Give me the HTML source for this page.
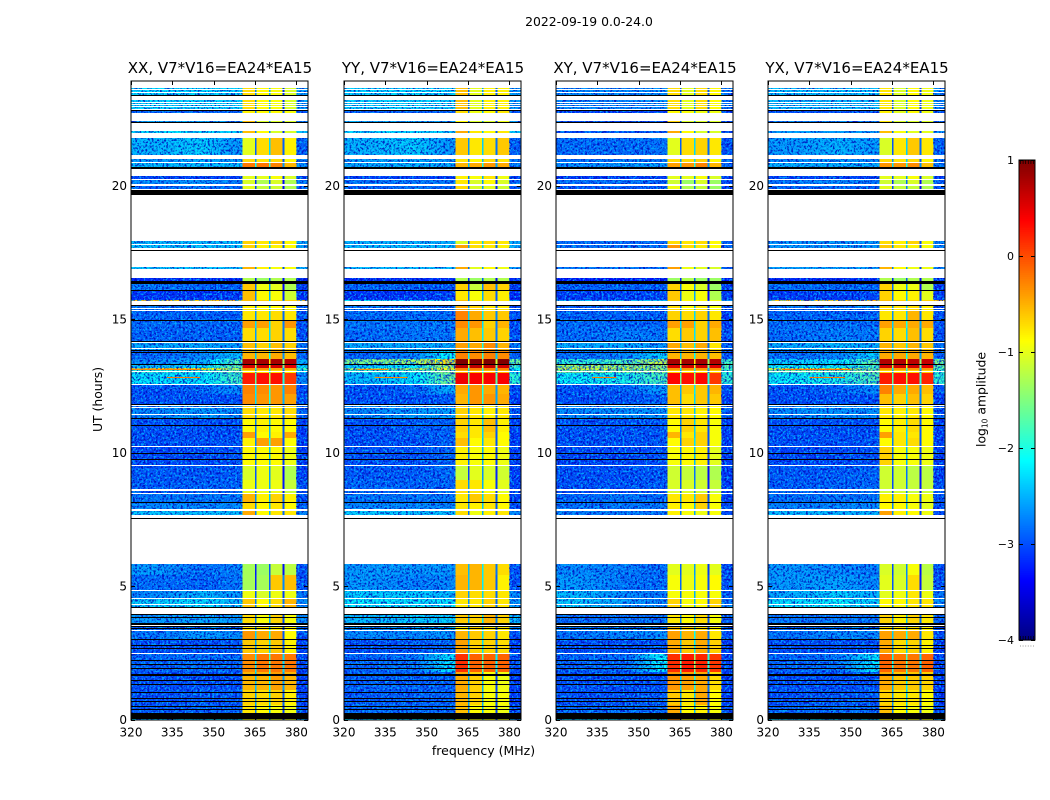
<!DOCTYPE html>
<html>
<head>
<meta charset="utf-8">
<title>2022-09-19 0.0-24.0</title>
<style>
html,body{margin:0;padding:0;background:#fff;}
svg{display:block;}
text{font-family:"DejaVu Sans","Liberation Sans",sans-serif;fill:#000;}
</style>
</head>
<body>
<svg id="chart" xmlns="http://www.w3.org/2000/svg" width="1050" height="800" viewBox="0 0 1050 800">
  <defs>
    <filter id="speckle-dark" x="0" y="0" width="1" height="1" color-interpolation-filters="sRGB">
      <feTurbulence type="fractalNoise" baseFrequency="0.48" numOctaves="2" seed="4"/>
      <feColorMatrix values="0 0 0 0 0  0 0 0 0 0.02  0 0 0 0 0.72  6 0 0 0 -2.85"/>
    </filter>
    <filter id="speckle-light" x="0" y="0" width="1" height="1" color-interpolation-filters="sRGB">
      <feTurbulence type="fractalNoise" baseFrequency="0.48" numOctaves="2" seed="11"/>
      <feColorMatrix values="0 0 0 0 0  0 0 0 0 0.72  0 0 0 0 1  0 6 0 0 -3.1"/>
    </filter>
  </defs>
  <rect x="0" y="0" width="1050" height="800" fill="#fff"/>
  <text x="589" y="26" font-size="12.4" text-anchor="middle">2022-09-19 0.0-24.0</text>
  <text x="220" y="73" font-size="15" text-anchor="middle">XX, V7*V16=EA24*EA15</text>
  <text x="433" y="73" font-size="15" text-anchor="middle">YY, V7*V16=EA24*EA15</text>
  <text x="645" y="73" font-size="15" text-anchor="middle">XY, V7*V16=EA24*EA15</text>
  <text x="857" y="73" font-size="15" text-anchor="middle">YX, V7*V16=EA24*EA15</text>
  <text x="483.5" y="755" font-size="12.5" text-anchor="middle">frequency (MHz)</text>
  <text transform="translate(102,399.5) rotate(-90)" font-size="12.4" text-anchor="middle">UT (hours)</text>
  <text transform="translate(985.5,399.5) rotate(-90)" font-size="12.4" text-anchor="middle">log<tspan font-size="7.5" dy="2">10</tspan><tspan dy="-2"> amplitude</tspan></text>
  <g id="panels"></g>
  <g id="colorbar"></g>
</svg>
<script>
// ---- data ----
const panelNames = ["xx", "yy", "xy", "yx"];
const xTickLabels = [320, 335, 350, 365, 380];
const yTickLabels = [0, 5, 10, 15, 20];
const colorbarTickLabels = [1, 0, -1, -2, -3, -4];
// frequency (MHz) where the three background readings of each row were taken
const backgroundFreqs = [329, 346, 357.2];
// frequency edges (MHz): background end, band/gap x4, upper background
const freqEdges = [320, 360.4, 365, 365.6, 370, 370.6, 375, 375.6, 380, 384.2];
// how far (decades) the three sub-band gaps sit below the neighbouring sub-bands
const gapDrops = [1.9, 1.6, 2.1];
// UT (hours) edges of the heatmap rows, top to bottom
const bandEdges = [23.66,22.80,22.45,22.20,21.78,21.15,20.87,20.63,20.24,20.04,17.92,17.77,16.95,16.52,16.31,16.06,15.72,15.52,15.30,14.92,14.66,14.14,13.85,13.50,13.31,13.15,13.10,12.99,12.55,12.19,11.80,11.31,10.77,10.54,10.26,9.53,8.97,8.50,8.11,7.87,5.82,5.41,4.85,4.55,3.95,3.60,3.30,2.98,2.46,1.78,1.10,.54,.24,0];
// flagged (blank) UT ranges
const whiteRanges = [[23.91,23.66],[23.60,23.58],[23.51,23.49],[23.35,23.20],[23.13,23.10],[23.04,23.01],[22.96,22.93],[22.88,22.84],[22.73,22.43],[22.34,22.04],[21.96,21.78],[21.15,21.00],[20.89,20.85],[20.63,20.35],[20.24,20.20],[20.04,19.98],[19.86,19.83],[19.64,17.92],[17.81,17.77],[17.67,17.59],[17.55,16.95],[16.86,16.52],[15.66,15.52],[15.41,15.37],[15.34,15.30],[14.14,14.10],[13.92,13.86],[13.04,13.01],[12.55,12.52],[11.80,11.75],[11.70,11.67],[11.45,11.42],[10.26,10.23],[9.55,9.51],[8.63,8.57],[8.50,8.46],[7.87,7.80],[7.66,7.56],[7.52,5.82],[4.85,4.81],[4.55,4.51],[4.33,4.30],[4.21,3.95],[3.60,3.57],[3.54,3.51],[3.35,3.30],[2.48,2.44]];
// zero-amplitude (black) UT ranges
const blackRanges = [[23.38,23.35],[22.84,22.80],[22.38,22.34],[20.69,20.63],[19.83,19.64],[17.59,17.55],[16.43,16.31],[16.08,16.04],[15.52,15.49],[14.95,14.92],[14.17,14.14],[13.85,13.80],[13.78,13.72],[13.31,13.28],[11.83,11.80],[11.30,11.25],[11.03,10.99],[10.00,9.97],[9.74,9.71],[8.15,8.11],[7.56,7.52],[4.23,4.21],[3.95,3.91],[3.85,3.82],[3.63,3.60],[3.57,3.54],[3.50,3.46],[3.42,3.39],[3.03,3.00],[2.80,2.76],[2.66,2.63],[2.22,2.18],[2.07,2.03],[1.93,1.90],[1.70,1.63],[1.48,1.45],[1.33,1.29],[1.02,.99],[.79,.76],[.69,.67],[.49,.46],[.39,.37],[.24,.02]];
// narrow interference: panel, UT hour, start MHz, end MHz, log10 amplitude
const rfiSegments = [[0,12.84,333,345,-.2],[1,12.84,331,343,-.3],[2,12.84,333,342,-.2],[3,12.84,335,348,-.2],[0,13.12,320,345,-.3],[3,13.12,325,350,-.2],[1,13.12,325,336,-.3]];
// log10 amplitude per row: [320-338, 338-354, 354-360, band1, band2, band3, band4, 380-384]
const valuesXX = [
[-2.25,-2.25,-2.3,-.55,-.7,-.75,-.9,-2.6],[-2.9,-2.9,-2.9,-.65,-.7,-.7,-.75,-3],[-2.5,-2.5,-2.6,-.4,-.9,-.9,-.9,-2.8],[-2.2,-2.2,-2.3,-.4,-.7,-.9,-.9,-2.4],
[-2.45,-2.3,-2.6,-.85,-.55,-.4,-.65,-2.9],[-2.6,-2.5,-2.6,-.55,-.6,-.55,-.7,-2.7],[-2.4,-2.4,-2.4,-.05,-.05,-.1,-.35,-2.7],[-3.1,-3.1,-3.1,-.85,-.85,-.75,-.9,-3.1],
[-2.7,-2.6,-2.8,-.9,-1.1,-.9,-1.1,-2.8],[-2.9,-2.8,-2.9,-.85,-1,-.95,-1.1,-2.9],[-2.4,-2.4,-2.4,-.5,-.6,-.5,-.7,-2.5],[-2.35,-2.35,-2.4,-.5,-.65,-.65,-.7,-2.5],
[-2.35,-2.35,-2.4,-.35,-.65,-.75,-.75,-2.5],[-3.2,-3.2,-3.2,-1.1,-1.2,-1.1,-1.1,-3.2],[-2.8,-2.9,-2.9,-.45,-.8,-.85,-1.1,-3.1],[-3.15,-3.15,-3.1,-.4,-.7,-.75,-.95,-3.15],
[-.6,-.6,-.5,-.4,-.5,-.5,-.5,-.5],[-2.8,-2.8,-2.8,-.65,-.7,-.7,-.7,-2.9],[-2.9,-2.9,-2.9,-.6,-.6,-.55,-.6,-3],[-2.85,-2.85,-2.9,-.25,-.25,-.5,-.2,-3],
[-2.9,-2.9,-2.9,-.55,-.55,-.5,-.55,-3],[-2.5,-2.5,-2.6,-.4,-.5,-.4,-.5,-2.8],[-2.9,-2.7,-2.4,-.35,-.35,-.3,-.4,-2.9],[-2.7,-2.5,-1.7,.8,.8,.8,.75,-2.5],
[-2.4,-2.2,-1.6,.55,.6,.6,.5,-2.2],[-.65,-.8,-1.3,-.2,-.2,-.3,-.3,-1.8],[-1.9,-1.9,-1.6,-.55,-.55,-.55,-.6,-2.2],[-2.2,-2.2,-1.8,.25,.3,.3,.1,-2.7],
[-3,-2.9,-2.7,-.1,-.15,-.2,-.1,-3],[-3,-3,-3,-.15,-.2,-.2,-.25,-3],[-2.7,-2.6,-2.7,-.55,-.6,-.6,-.55,-2.9],[-3,-3,-3,-.7,-.65,-.7,-.7,-3.1],
[-3,-3,-3,-.25,-.7,-.65,-.3,-3.1],[-3,-3,-3,-.65,-.25,-.25,-.7,-3.1],[-3.05,-3.05,-3,-.7,-.7,-.7,-.8,-3.1],[-2.95,-2.95,-2.95,-.9,-.8,-.85,-1.1,-3.1],
[-2.95,-2.9,-2.9,-.8,-.8,-.8,-1,-3],[-2.8,-2.8,-2.8,-.35,-.65,-.5,-.65,-3],[-2.7,-2.7,-2.7,-.55,-.7,-.6,-.7,-2.9],[-2.35,-2.4,-2.4,-.3,-.7,-.6,-.6,-2.7],
[-2.6,-2.85,-2.75,-1.15,-1.2,-1,-1.05,-3],[-2.85,-2.9,-2.8,-1.15,-1.15,-.45,-.4,-3],[-2.7,-2.4,-2.6,-.8,-.9,-.8,-.8,-2.8],[-2.3,-2.2,-2.4,-.45,-.7,-.55,-.35,-2.7],
[-2.6,-2.5,-2.6,-.55,-.75,-.5,-.75,-2.7],[-2.9,-2.8,-2.8,-.6,-.6,-.6,-.7,-2.9],[-2.8,-2.6,-2.7,-.2,-.3,-.3,-.7,-3],[-3,-3,-2.95,-.45,-.5,-.45,-.65,-3.1],
[-2.9,-2.85,-2.9,-.15,-.05,-.05,-.05,-3.05],[-3,-3,-3,-.35,-.35,-.25,-.35,-3.1],[-3,-2.95,-2.95,-.5,-.55,-.5,-.65,-3.05],[-2.95,-2.9,-2.9,-.6,-.7,-.75,-.8,-3],[-2.2,-2.2,-2.2,-.8,-.8,-.9,-.9,-2.4]
];
const valuesYY = [
[-2.3,-2.25,-2.3,-.4,-.85,-.65,-.65,-2.6],[-2.9,-2.9,-2.9,-.55,-.8,-.7,-.6,-3],[-2.5,-2.5,-2.6,-.7,-.9,-.9,-.8,-2.8],[-2.25,-2.25,-2.3,-.3,-.6,-.7,-.6,-2.3],
[-2.45,-2.3,-2.6,-.45,-.6,-.55,-.45,-2.9],[-2.55,-2.5,-2.6,-.6,-.7,-.55,-.6,-2.8],[-2.5,-2.45,-2.5,-.35,-.3,-.2,-.3,-2.8],[-3.1,-3.1,-3.1,-.65,-.75,-.6,-.8,-3.1],
[-2.8,-2.8,-2.8,-.6,-.9,-.7,-.9,-2.9],[-2.9,-2.8,-2.9,-.55,-.9,-.85,-.95,-3],[-2.45,-2.45,-2.5,-.9,-.6,-.55,-.6,-2.5],[-2.4,-2.4,-2.4,-.25,-.55,-.6,-.65,-2.5],
[-2.4,-2.4,-2.4,-.3,-.85,-.7,-.8,-2.6],[-3.2,-3.2,-3.2,-1.1,-1.2,-1.1,-1.1,-3.2],[-2.9,-2.9,-3,-.5,-1,-.4,-.5,-3.1],[-3.15,-3.15,-3.1,-.6,-.75,-.55,-.65,-3.2],
[-2.2,-2.2,-2.2,-.4,-.6,-.6,-.6,-2.6],[-2.8,-2.8,-2.8,-.3,-.5,-.6,-.6,-3],[-2.85,-2.85,-2.85,-.1,-.3,-.45,-.45,-3],[-2.8,-2.8,-2.8,-.15,-.2,-.5,-.35,-3],
[-2.85,-2.8,-2.8,-.3,-.4,-.45,-.5,-3],[-2.5,-2.5,-2.5,-.25,-.3,-.15,-.35,-2.8],[-2.9,-2.7,-2.1,-.1,-.15,-.1,-.15,-2.9],[-1.5,-1.3,-.7,1,1,1,1,-1.6],
[-2.3,-2.1,-1.2,.7,.7,.65,.6,-1.8],[-1.4,-1.3,-.9,-.1,-.1,-.1,-.1,-2.1],[-1.9,-1.9,-1.4,-.35,-.35,-.35,-.35,-2.2],[-2.4,-2.2,-1.55,.45,.4,.4,.4,-1.9],
[-3,-2.9,-2.5,-.3,-.2,-.3,-.35,-3],[-3,-3,-2.95,-.35,-.2,-.2,-.3,-3.1],[-2.7,-2.6,-2.6,-.5,-.6,-.65,-.6,-3],[-3,-2.95,-2.9,-.5,-.6,-.4,-.65,-3.1],
[-3,-2.95,-2.9,-.55,-.6,-.5,-.7,-3.1],[-3,-3,-2.9,-.4,-.7,-.6,-.7,-3.1],[-3,-3,-2.9,-.65,-.75,-.7,-.8,-3.1],[-2.95,-2.95,-2.85,-1,-.85,-.9,-.95,-3.1],
[-2.9,-2.9,-2.9,-.55,-.6,-.75,-.85,-3.1],[-2.8,-2.8,-2.8,-.6,-.45,-.55,-.7,-3.1],[-2.7,-2.7,-2.7,-.6,-.65,-.6,-.7,-3],[-2.3,-2.4,-2.4,-.55,-.8,-.65,-.6,-2.7],
[-2.6,-2.6,-2.6,-.4,-.35,-.45,-.55,-3],[-2.6,-2.75,-2.7,-.35,-.35,-.45,-.65,-3],[-2.3,-2.3,-2.4,-.5,-.55,-.55,-.6,-2.7],[-2.15,-2.2,-2.2,-.6,-.6,-.5,-.6,-2.6],
[-2.4,-2.3,-2.3,-.45,-.5,-.35,-.5,-2.4],[-2.7,-2.6,-2.5,-.6,-.5,-.6,-.6,-2.8],[-2.7,-2.7,-2.6,-.35,-.45,-.5,-.6,-3],[-3,-2.95,-2.9,-.25,-.5,-.5,-.55,-3.1],
[-2.9,-2.8,-2.2,.15,.05,.05,.05,-3],[-2.9,-2.9,-2.9,-.3,-.5,-.75,-.8,-3.1],[-2.95,-2.9,-2.9,-.35,-.5,-.75,-.75,-3.1],[-2.85,-2.85,-2.85,-.4,-.7,-.75,-.8,-3],[-2.2,-2.2,-2.2,-.7,-.8,-.8,-.8,-2.4]
];
const valuesXY = [
[-2.7,-2.7,-2.7,-.55,-.85,-.55,-.7,-2.8],[-3.1,-3.1,-3.1,-.7,-.75,-.8,-.8,-3.1],[-3,-3,-3,-.5,-.9,-.9,-.9,-3.1],[-3,-3,-2.9,-.3,-.7,-.9,-.9,-3],
[-2.85,-2.85,-2.8,-.85,-.55,-.5,-.6,-3],[-2.8,-2.75,-2.8,-.55,-.55,-.5,-.7,-2.9],[-2.7,-2.6,-2.6,-.25,-.2,-.1,-.35,-2.9],[-3.15,-3.1,-3.1,-.85,-.85,-.75,-.9,-3.1],
[-2.85,-2.85,-2.9,-.95,-1.2,-.9,-1.2,-3],[-3,-2.9,-3,-.8,-1.1,-1,-1.2,-3.1],[-2.85,-2.85,-2.85,-.55,-.6,-.55,-.7,-2.9],[-2.8,-2.8,-2.85,-.2,-.55,-.6,-.7,-2.9],
[-2.8,-2.8,-2.85,-.25,-.8,-.85,-.9,-2.9],[-3.3,-3.3,-3.3,-1.2,-1.1,-1.2,-1.2,-3.3],[-2.9,-2.9,-2.95,-.5,-.75,-.9,-1.2,-3.1],[-3.1,-3.1,-3.05,-.45,-.8,-.75,-1.1,-3.1],
[-2.4,-2.4,-2.4,-.5,-.7,-.7,-.8,-2.7],[-2.9,-2.9,-2.9,-.55,-.7,-.6,-.75,-3],[-2.9,-2.9,-2.9,-.5,-.55,-.5,-.6,-3.1],[-2.85,-2.9,-2.9,-.25,-.25,-.5,-.3,-3.1],
[-2.85,-2.75,-2.8,-.55,-.45,-.5,-.4,-3],[-2.5,-2.5,-2.6,-.3,-.4,-.3,-.6,-2.9],[-2.85,-2.7,-2.3,-.35,-.35,-.35,-.4,-3],[-1.9,-1.7,-1.1,.8,.8,.8,.75,-1.8],
[-1.3,-1.3,-1.3,.55,.6,.6,.55,-1.7],[-1.1,-1.1,-1.4,-.2,-.2,-.2,-.2,-1.8],[-1.5,-1.5,-1.4,-.5,-.5,-.5,-.5,-1.9],[-2.1,-2,-1.75,.35,.3,.35,.1,-1.9],
[-3,-2.9,-2.6,-.4,-.45,-.45,-.35,-3],[-3,-2.95,-2.9,-.4,-.55,-.45,-.45,-3.1],[-2.7,-2.65,-2.65,-.6,-.6,-.65,-.7,-2.9],[-3,-3,-2.95,-.7,-.5,-.6,-.75,-3.1],
[-3,-3,-2.95,-.35,-.6,-.5,-.75,-3.1],[-3,-3,-2.95,-.7,-.5,-.5,-.75,-3.1],[-3.05,-3.05,-3,-.75,-.7,-.65,-.85,-3.1],[-3,-3,-2.95,-.95,-1,-1.05,-1.1,-3.1],
[-3,-3,-2.95,-.9,-.9,-.95,-1,-3.1],[-2.9,-2.8,-2.85,-.6,-.6,-.45,-.75,-3.1],[-2.8,-2.8,-2.8,-.65,-.7,-.5,-.75,-3],[-2.75,-2.8,-2.8,-.65,-.75,-.8,-.75,-3],
[-2.7,-2.75,-2.85,-.85,-.85,-.8,-.85,-3],[-2.6,-2.8,-2.85,-.75,-.8,-.75,-.7,-3],[-2.4,-2.7,-2.75,-.75,-.75,-.75,-.75,-2.9],[-2.3,-2.6,-2.7,-.5,-.75,-.7,-.5,-2.8],
[-2.85,-2.85,-2.8,-.6,-.7,-.55,-.75,-2.9],[-2.8,-2.8,-2.8,-.4,-.5,-.55,-.65,-2.9],[-2.8,-2.7,-2.7,-.25,-.35,-.3,-.6,-3],[-3,-3,-3,-.3,-.45,-.3,-.5,-3.1],
[-2.9,-2.85,-2.1,.15,.25,.2,.1,-3.05],[-3,-3,-3,-.2,-.25,-.3,-.55,-3.1],[-3,-3,-2.95,-.45,-.6,-.3,-.7,-3.1],[-2.85,-2.85,-2.85,-.3,-.7,-.65,-.75,-3],[-2.2,-2.2,-2.2,-.1,-.8,-.8,-.8,-2.4]
];
const valuesYX = [
[-2.4,-2.4,-2.4,-.6,-.9,-.7,-.8,-2.7],[-3,-3,-3,-.65,-.85,-.7,-.8,-3],[-2.8,-2.8,-2.8,-.6,-.9,-.9,-.9,-2.9],[-2.6,-2.6,-2.6,-.4,-.75,-.85,-.85,-2.7],
[-2.6,-2.45,-2.6,-.9,-.6,-.45,-.6,-2.9],[-2.7,-2.6,-2.7,-.55,-.6,-.55,-.7,-2.8],[-2.5,-2.5,-2.5,-.2,-.2,-.15,-.4,-2.8],[-3.1,-3.1,-3.1,-.85,-.85,-.75,-.9,-3.1],
[-2.8,-2.7,-2.8,-.95,-1.1,-.9,-1.1,-2.9],[-2.9,-2.85,-2.9,-.85,-1,-1,-1.1,-3],[-2.6,-2.6,-2.6,-.55,-.65,-.5,-.75,-2.7],[-2.6,-2.6,-2.6,-.45,-.6,-.65,-.75,-2.7],
[-2.55,-2.55,-2.6,-.35,-.7,-.8,-.8,-2.7],[-3.2,-3.2,-3.2,-1.1,-1.2,-1.1,-1.1,-3.2],[-2.85,-2.85,-2.9,-.5,-.8,-.8,-1.1,-3.1],[-3.1,-3.1,-3.05,-.5,-.7,-.65,-.85,-3.1],
[-.6,-.6,-.5,-.4,-.5,-.5,-.5,-.6],[-2.8,-2.8,-2.8,-.55,-.6,-.55,-.65,-3],[-2.9,-2.9,-2.9,-.6,-.6,-.35,-.6,-3],[-2.85,-2.85,-2.85,-.25,-.3,-.3,-.3,-3],
[-2.85,-2.75,-2.8,-.5,-.55,-.4,-.55,-3],[-2.5,-2.4,-2.5,-.35,-.45,-.35,-.45,-2.8],[-2.85,-2.7,-2.3,-.3,-.3,-.3,-.35,-2.9],[-2.3,-2.2,-1.6,.75,.75,.7,.65,-1.5],
[-2.1,-2.1,-1.8,.6,.6,.6,.5,-1.6],[-1.1,-1.1,-1.5,-.2,-.2,-.2,-.2,-1.8],[-1.6,-1.6,-1.5,-.5,-.5,-.5,-.5,-1.9],[-2.1,-2,-1.7,.25,.3,.3,.2,-1.9],
[-3,-2.9,-2.7,-.1,-.3,-.3,-.4,-3],[-3,-3,-3,-.4,-.5,-.4,-.5,-3.1],[-2.7,-2.65,-2.7,-.6,-.65,-.6,-.7,-3],[-3,-3,-3,-.7,-.65,-.55,-.7,-3.1],
[-3,-3,-3,-.25,-.6,-.6,-.7,-3.1],[-3,-3,-3,-.7,-.6,-.55,-.7,-3.1],[-3.05,-3.05,-3,-.5,-.75,-.75,-.8,-3.1],[-2.95,-2.95,-2.9,-.95,-.95,-1.05,-1.05,-3.1],
[-2.95,-2.9,-2.9,-.95,-.95,-1,-1,-3],[-2.85,-2.8,-2.8,-.65,-.65,-.75,-.8,-3],[-2.75,-2.7,-2.7,-.7,-.7,-.75,-.85,-3],[-2.4,-2.45,-2.45,-.25,-.65,-.7,-.8,-3],
[-2.6,-2.7,-2.75,-.9,-.95,-.75,-1.05,-3],[-2.6,-2.55,-2.7,-.85,-.9,-.55,-1,-3],[-2.5,-2.25,-2.45,-.85,-.8,-.6,-.8,-2.8],[-2.2,-2.1,-2.3,-.7,-.7,-.6,-.6,-2.7],
[-2.8,-2.8,-2.8,-.5,-.65,-.5,-.6,-2.9],[-2.85,-2.85,-2.85,-.55,-.6,-.55,-.65,-3],[-2.8,-2.7,-2.7,-.25,-.3,-.3,-.6,-3],[-3,-3,-3,-.3,-.55,-.5,-.65,-3.1],
[-2.9,-2.8,-2.2,.05,-.05,-.05,.05,-3.05],[-3,-3,-3,-.3,-.45,-.45,-.5,-3.1],[-3,-2.95,-2.95,-.5,-.6,-.6,-.7,-3.1],[-2.9,-2.85,-2.85,-.4,-.7,-.75,-.8,-3],[-2.2,-2.2,-2.2,-.7,-.8,-.8,-.8,-2.4]
];
const panelValues = [valuesXX, valuesYY, valuesXY, valuesYX];

// ---- layout & scales ----
const SVGNS = "http://www.w3.org/2000/svg";
const panelLeft = [131, 344, 556, 768];
const panelWidth = 177;
const plotTop = 81;
const plotBottom = 720;
const freqMin = 320, freqMax = 384.2;
const pxPerHour = 26.7;
const hourZeroY = 719.5;
const cbLeft = 1019, cbRight = 1035, cbTop = 160, cbBottom = 640;
const logMin = -4, logMax = 1;
const bgCellMHz = 2.5;
const bandShift = -0.16;

function xScale(f, left) { return left + (f - freqMin) / (freqMax - freqMin) * panelWidth; }
function yScale(h) { return hourZeroY - h * pxPerHour; }
function cbScale(v) { return cbBottom - (v - logMin) / (logMax - logMin) * (cbBottom - cbTop); }
function clip01(v) { return Math.max(0, Math.min(1, v)); }
function jet(v) {
  const t = clip01((v - logMin) / (logMax - logMin));
  const r = clip01(1.5 - Math.abs(4 * t - 3));
  const g = clip01(1.5 - Math.abs(4 * t - 2));
  const b = clip01(1.5 - Math.abs(4 * t - 1));
  return "rgb(" + Math.round(r * 255) + "," + Math.round(g * 255) + "," + Math.round(b * 255) + ")";
}
function make(tag, parent, props) {
  const el = document.createElementNS(SVGNS, tag);
  for (const k in props) el.setAttribute(k, props[k]);
  parent.appendChild(el);
  return el;
}
// background level at frequency f, between the three readings of a row
function backgroundAt(row, f) {
  if (f <= backgroundFreqs[0]) return row[0];
  if (f >= backgroundFreqs[2]) return row[2];
  const i = f < backgroundFreqs[1] ? 0 : 1;
  const k = (f - backgroundFreqs[i]) / (backgroundFreqs[i + 1] - backgroundFreqs[i]);
  return row[i] + (row[i + 1] - row[i]) * k;
}
function shifted(v) { return v < 0.1 ? v + bandShift : v; }
// band, gap, band, gap, band, gap, band, upper background
function bandColumns(row) {
  const b1 = shifted(row[3]), b2 = shifted(row[4]), b3 = shifted(row[5]), b4 = shifted(row[6]);
  return [b1, Math.min(b1, b2) - gapDrops[0], b2, Math.min(b2, b3) - gapDrops[1], b3, Math.min(b3, b4) - gapDrops[2], b4, row[7]];
}

const panelsGroup = document.getElementById("panels");
panelNames.forEach(function (name, p) {
  const left = panelLeft[p];
  const g = make("g", panelsGroup, {});
  
  

  panelValues[p].forEach(function (row, r) {
    const y1 = Math.round(yScale(bandEdges[r]));
    const y2 = Math.round(yScale(bandEdges[r + 1]));
    // background part of the row
    for (let f = freqEdges[0]; f < freqEdges[1]; f += bgCellMHz) {
      const fEnd = Math.min(f + bgCellMHz, freqEdges[1]);
      const x1 = xScale(f, left), x2 = xScale(fEnd, left);
      const bg = make("rect", g, { x: x1.toFixed(2), y: y1, width: (x2 - x1 + 0.3).toFixed(2), height: Math.max(1, y2 - y1), fill: jet(backgroundAt(row, (f + fEnd) / 2)), "shape-rendering": "crispEdges" });
      
      
    }
    // sub-bands, gaps and upper background
    bandColumns(row).forEach(function (v, c) {
      const x1 = xScale(freqEdges[c + 1], left);
      const x2 = xScale(freqEdges[c + 2], left);
      const cell = make("rect", g, { x: x1.toFixed(2), y: y1, width: (x2 - x1).toFixed(2), height: Math.max(1, y2 - y1), fill: jet(v), "shape-rendering": "crispEdges" });
      
      
    });
  });

  // fine grain over the two background regions
  [[freqEdges[0], freqEdges[1]], [freqEdges[8], freqEdges[9]]].forEach(function (span) {
    const x1 = xScale(span[0], left), x2 = xScale(span[1], left);
    ["speckle-dark", "speckle-light"].forEach(function (fid) {
      const grain = make("rect", g, { x: x1.toFixed(2), y: plotTop, width: (x2 - x1).toFixed(2), height: plotBottom - plotTop, fill: "#000", filter: "url(#" + fid + ")", opacity: 0.8 });
      
      
    });
  });

  // narrow interference
  rfiSegments.filter(function (s) { return s[0] === p; }).forEach(function (s) {
    const x1 = xScale(s[2], left), x2 = xScale(s[3], left);
    const seg = make("rect", g, { x: x1.toFixed(2), y: Math.round(yScale(s[1])), width: (x2 - x1).toFixed(2), height: 1, fill: jet(s[4]), "shape-rendering": "crispEdges" });
    
    
  });

  // flagged ranges
  whiteRanges.forEach(function (rng) {
    const y1 = Math.round(yScale(rng[0]));
    const y2 = Math.max(y1 + 1, Math.round(yScale(rng[1])));
    const m = make("rect", g, { x: left, y: y1, width: panelWidth, height: y2 - y1, fill: "#fff", "shape-rendering": "crispEdges" });
    
    
  });
  blackRanges.forEach(function (rng) {
    const y1 = Math.round(yScale(rng[0]));
    const y2 = Math.max(y1 + 1, Math.round(yScale(rng[1])));
    const m = make("rect", g, { x: left, y: y1, width: panelWidth, height: y2 - y1, fill: "#000", "shape-rendering": "crispEdges" });
    
    
  });

  // frame
  const frame = make("rect", g, { x: left, y: plotTop, width: panelWidth, height: plotBottom - plotTop, fill: "none", stroke: "#000", "stroke-width": 1 });
  
  

  // x ticks
  xTickLabels.forEach(function (f) {
    const x = Math.round(xScale(f, left)) + 0.5;
    const t1 = make("line", g, { x1: x, x2: x, y1: plotTop, y2: plotTop + 4, stroke: "#000" });
    
    
    const t2 = make("line", g, { x1: x, x2: x, y1: plotBottom, y2: plotBottom - 4, stroke: "#000" });
    
    
    const lab = make("text", g, { x: xScale(f, left), y: 736.5, "font-size": 12, "text-anchor": "middle" });
    lab.textContent = String(f);
    
    
  });

  // y ticks
  yTickLabels.forEach(function (h) {
    const y = Math.round(yScale(h)) + 0.5;
    const t1 = make("line", g, { x1: left, x2: left + 4, y1: y, y2: y, stroke: "#000" });
    
    
    const t2 = make("line", g, { x1: left + panelWidth, x2: left + panelWidth - 4, y1: y, y2: y, stroke: "#000" });
    
    
    const lab = make("text", g, { x: left - 4, y: yScale(h) + 4.5, "font-size": 12, "text-anchor": "end" });
    lab.textContent = String(h);
    
    
  });
});

// ---- colorbar ----
const cb = document.getElementById("colorbar");
const cbSteps = 256;
for (let i = 0; i < cbSteps; i++) {
  const v0 = logMin + (logMax - logMin) * i / cbSteps;
  const v1 = logMin + (logMax - logMin) * (i + 1) / cbSteps;
  const y1 = cbScale(v1), y0 = cbScale(v0);
  const seg = make("rect", cb, { x: cbLeft, y: y1.toFixed(2), width: cbRight - cbLeft, height: (y0 - y1 + 0.6).toFixed(2), fill: jet((v0 + v1) / 2) });
  
  
}
const cbFrame = make("rect", cb, { x: cbLeft, y: cbTop, width: cbRight - cbLeft, height: cbBottom - cbTop, fill: "none", stroke: "#000", "stroke-width": 1 });


colorbarTickLabels.forEach(function (v) {
  const y = Math.round(cbScale(v)) + 0.5;
  const t1 = make("line", cb, { x1: cbLeft, x2: cbLeft + 4, y1: y, y2: y, stroke: "#000" });
  
  
  const t2 = make("line", cb, { x1: cbRight, x2: cbRight - 4, y1: y, y2: y, stroke: "#000" });
  
  
  const lab = make("text", cb, { x: cbLeft - 5, y: cbScale(v) + 4, "font-size": 11, "text-anchor": "end" });
  lab.textContent = String(v).replace("-", "\u2212");
  
  
});
// small comb marks at both ends of the bar
for (let i = 0; i < 6; i++) {
  const x = cbLeft + 1.5 + i * 2.6;
  const a = make("line", cb, { x1: x, x2: x, y1: cbTop, y2: cbTop + 4, stroke: "#000", "stroke-width": 0.7 });
  
  
  const b = make("line", cb, { x1: x, x2: x, y1: cbBottom, y2: cbBottom - 4, stroke: "#000", "stroke-width": 0.7 });
  
  
  const d = make("rect", cb, { x: x - 0.5, y: 645.5, width: 1, height: 1, fill: "#999" });
  
  
}
</script>
</body>
</html>
